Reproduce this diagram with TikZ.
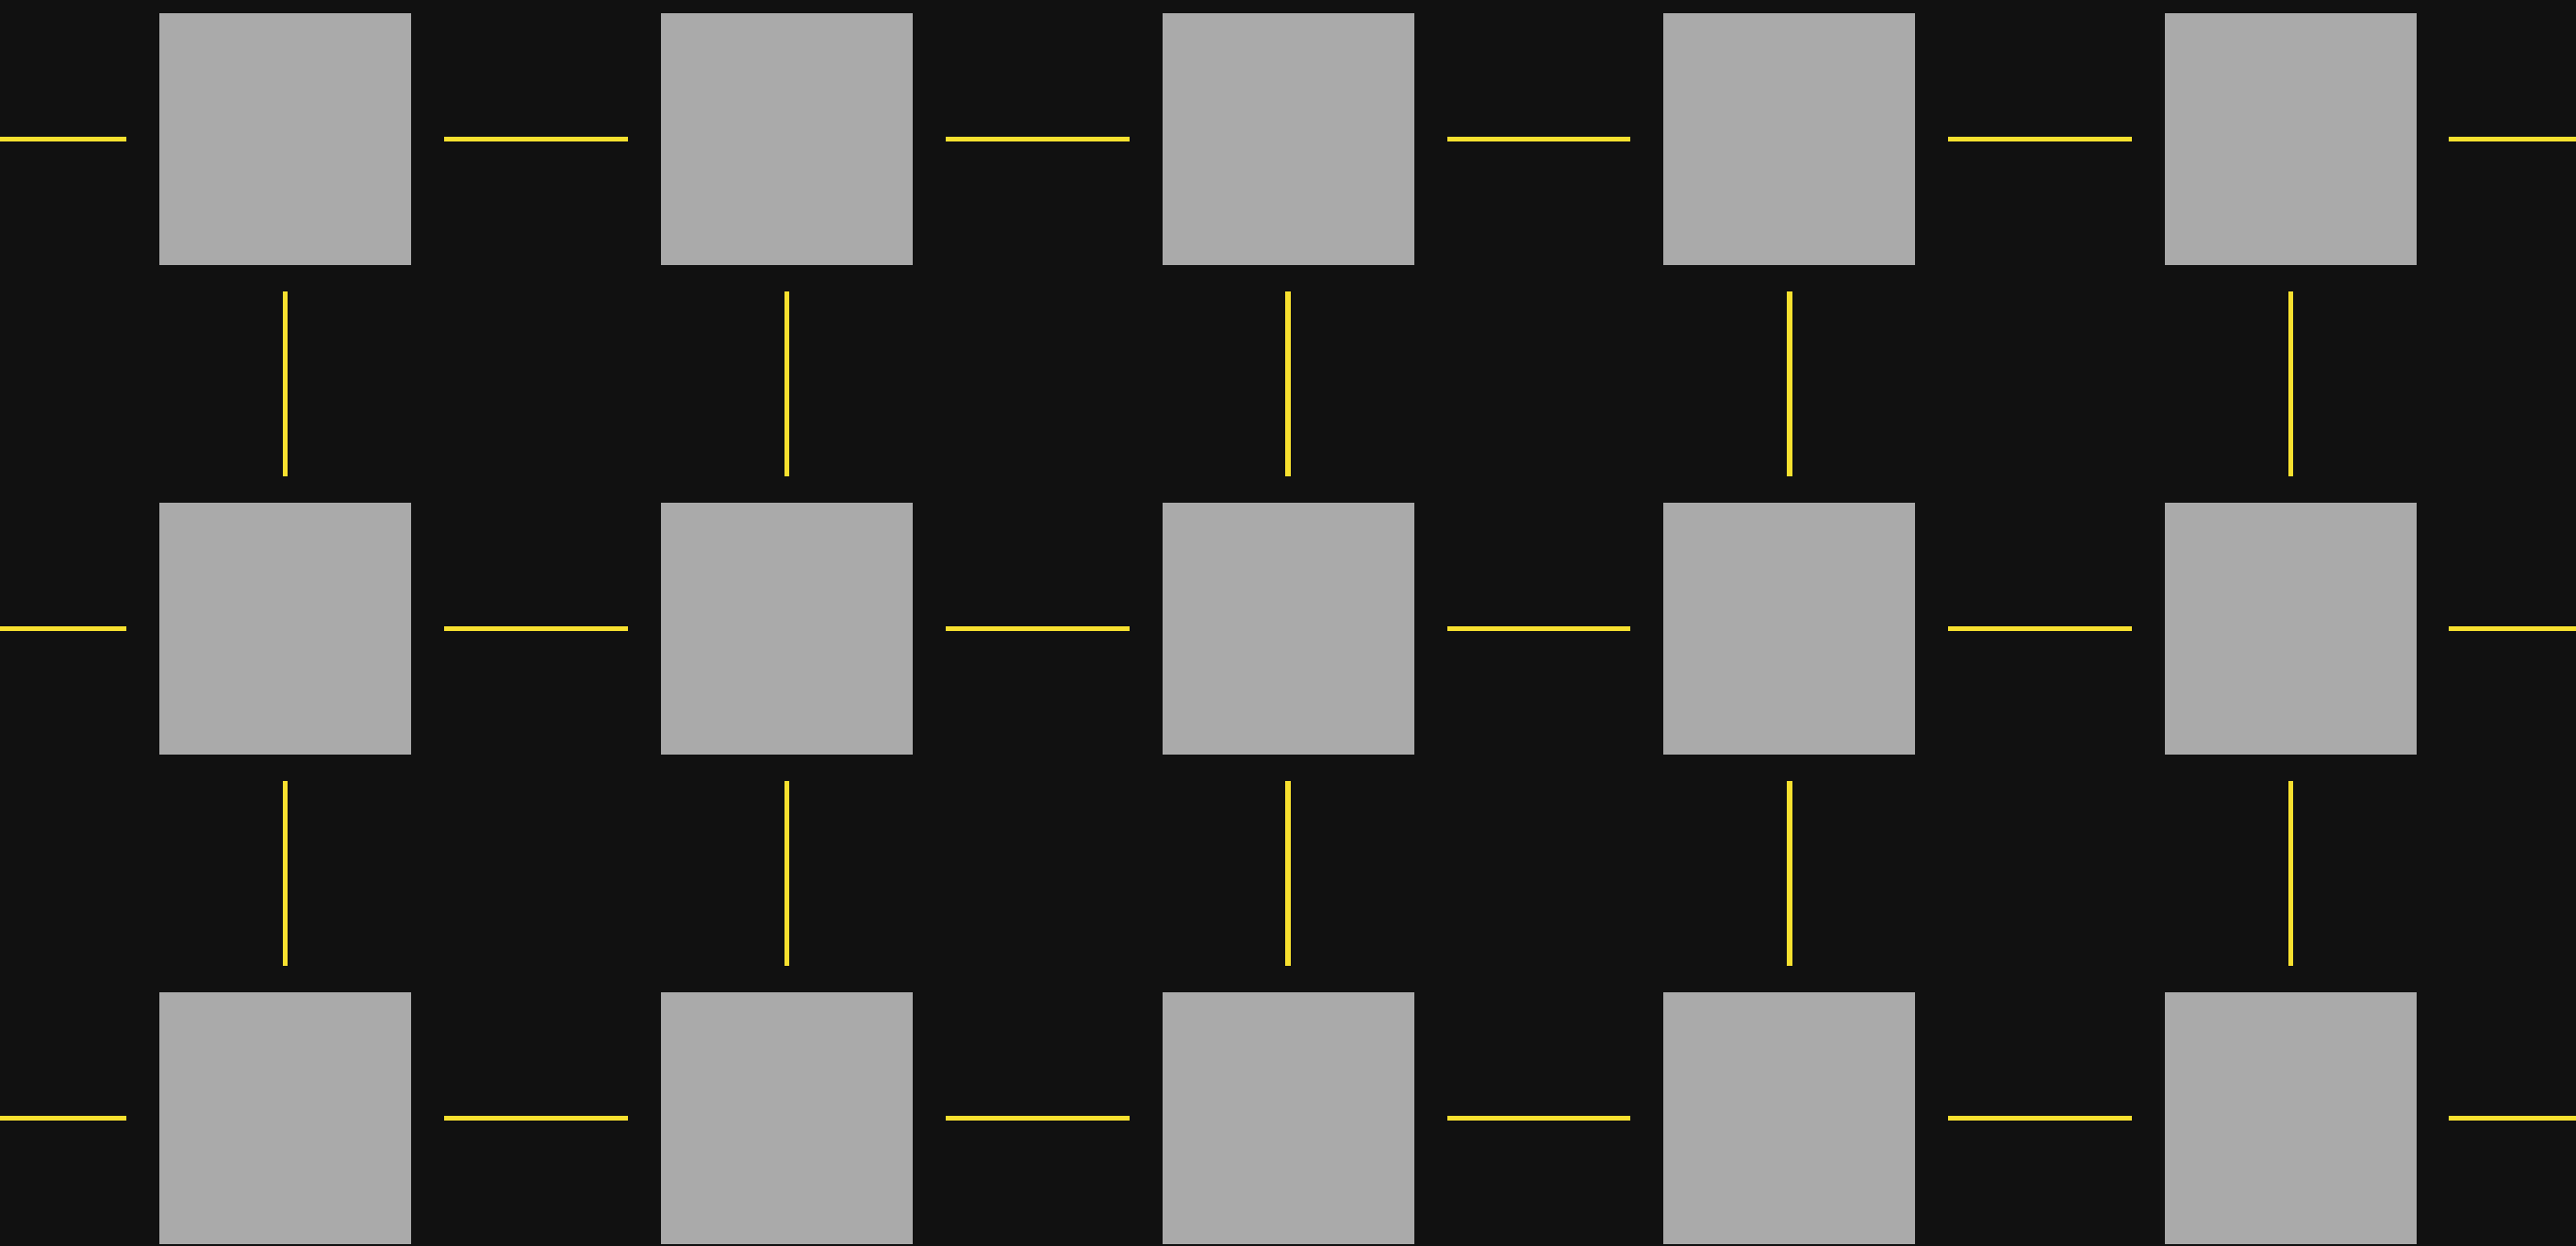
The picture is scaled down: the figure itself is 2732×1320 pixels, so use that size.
\documentclass[tikz,border=0pt]{standalone}
\definecolor{bg}{HTML}{111111}
\definecolor{sq}{HTML}{AAAAAA}
\definecolor{link}{HTML}{F7E02F}
\begin{document}
\begin{tikzpicture}[x=1pt,y=-1pt,
  cell/.style={fill=sq,draw=none,minimum size=267pt,inner sep=0pt,outer sep=0pt},
  hlink/.style={draw=link,line width=5.5pt,shorten >=35pt,shorten <=35pt},
  vlink/.style={draw=link,line width=5.5pt,shorten >=28pt,shorten <=28pt},
  lend/.style={draw=link,line width=5.5pt,shorten >=35pt},
  rend/.style={draw=link,line width=5.5pt,shorten <=34pt}]
\useasboundingbox (0,0) rectangle (2732,1320);
\fill[bg] (-10,-10) rectangle (2742,1330);
\foreach \r/\y in {0/147.5,1/666.5,2/1185.5}{
  \foreach \c in {0,...,4}{
    \node[cell] (n\r\c) at ({302.5+531.75*\c},\y) {};
  }
  \coordinate (l\r) at (-5,\y);
  \coordinate (r\r) at (2737,\y);
}
\foreach \r in {0,1,2}{
  \draw[lend] (l\r) -- (n\r0.west);
  \draw[rend] (n\r4.east) -- (r\r);
  \foreach \c/\d in {0/1,1/2,2/3,3/4}{
    \draw[hlink] (n\r\c.east) -- (n\r\d.west);
  }
}
\foreach \c in {0,...,4}{
  \draw[vlink] (n0\c.south) -- (n1\c.north);
  \draw[vlink] (n1\c.south) -- (n2\c.north);
}
\end{tikzpicture}
\end{document}
